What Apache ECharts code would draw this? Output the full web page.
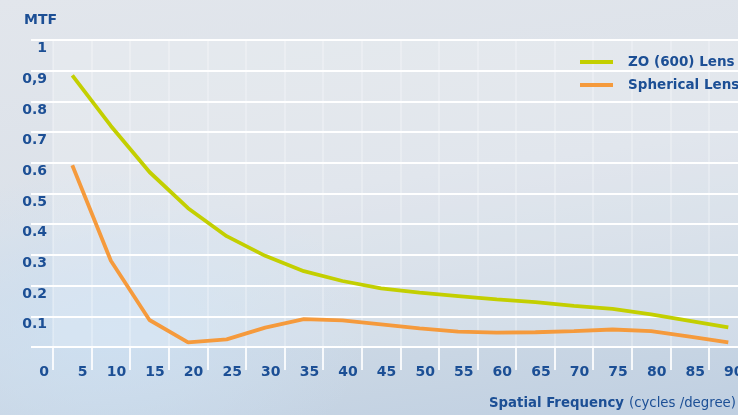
<!DOCTYPE html>
<html>
<head>
<meta charset="utf-8">
<script src="https://cdn.jsdelivr.net/npm/echarts@6/dist/echarts.min.js"></script>
<style>
html,body{margin:0;padding:0;overflow:hidden;width:738px;height:415px;}
#chart{width:760px;height:415px;
background:
 radial-gradient(ellipse 260px 160px at 110px 330px, rgba(205,224,242,0.9), rgba(205,224,242,0) 100%),
 linear-gradient(172deg, #e2e6ec 0%, #dbe1e9 45%, #c9d6e4 80%, #bfcfe1 100%);}
</style>
</head>
<body>
<div id="chart"></div>
<script>
// Data
const freq = [2.5, 7.5, 12.5, 17.5, 22.5, 27.5, 32.5, 37.5, 42.5, 47.5, 52.5, 57.5, 62.5, 67.5, 72.5, 77.5, 82.5, 87.5];
const zoLens = [0.885, 0.72, 0.57, 0.452, 0.361, 0.297, 0.247, 0.215, 0.191, 0.177, 0.166, 0.155, 0.146, 0.134, 0.124, 0.106, 0.085, 0.064];
const sphericalLens = [0.592, 0.281, 0.088, 0.015, 0.025, 0.063, 0.091, 0.087, 0.074, 0.061, 0.05, 0.047, 0.048, 0.052, 0.057, 0.052, 0.034, 0.015];
const seriesNames = ['ZO (600) Lens', 'Spherical Lens'];
const xTickLabels = ['0','5','10','15','20','25','30','35','40','45','50','55','60','65','70','75','80','85','90'];
const yTickLabels = ['', '0.1', '0.2', '0.3', '0.4', '0.5', '0.6', '0.7', '0.8', '0,9', '1'];

const BLUE = '#1c4f95';
const FONT = 'DejaVu Sans';

const chart = echarts.init(document.getElementById('chart'), null, {renderer: 'canvas'});
chart.setOption({
  backgroundColor: 'transparent',
  animation: false,
  title: [
    {text: 'MTF', left: 19, top: 8,
     textStyle: {color: BLUE, fontFamily: FONT, fontWeight: 'bold', fontSize: 14}},
    {text: '{b|Spatial Frequency} {n|(cycles /degree)}', left: 484, top: 390,
     textStyle: {rich: {
       b: {color: BLUE, fontFamily: FONT, fontWeight: 'bold', fontSize: 13.3},
       n: {color: BLUE, fontFamily: FONT, fontWeight: 'normal', fontSize: 13.3}
     }}}
  ],
  legend: {
    orient: 'vertical', left: 575, top: 50, itemGap: 9,
    itemWidth: 33, itemHeight: 4, icon: 'rect',
    textStyle: {color: BLUE, fontFamily: FONT, fontWeight: 'bold', fontSize: 13.5, padding: [0,0,0,10]},
    data: seriesNames
  },
  grid: {left: 53, top: 40, width: 694.6, bottom: 68, show: true,
         backgroundColor: 'rgba(255,255,255,0.18)', borderWidth: 0},
  xAxis: {
    type: 'value', min: 0, max: 90, interval: 5, offset: 7,
    axisLine: {show: false},
    axisTick: {show: true, length: 23, lineStyle: {color: 'rgba(255,255,255,0.85)', width: 2}},
    splitLine: {show: true, lineStyle: {color: 'rgba(255,255,255,0.32)', width: 1.5}},
    axisLabel: {
      color: BLUE, fontFamily: FONT, fontWeight: 'bold', fontSize: 14,
      margin: 11, align: 'right', padding: [0, 4, 0, 0],
      showMinLabel: true, showMaxLabel: true,
      formatter: (v) => xTickLabels[Math.round(v / 5)]
    }
  },
  yAxis: {
    type: 'value', min: 0, max: 1, interval: 0.1, offset: 6,
    axisLine: {show: false},
    axisTick: {show: true, length: 22, lineStyle: {color: '#ffffff', width: 2}},
    splitLine: {show: true, lineStyle: {color: '#ffffff', width: 2}},
    axisLabel: {
      color: BLUE, fontFamily: FONT, fontWeight: 'bold', fontSize: 14,
      margin: 0, verticalAlign: 'top', lineHeight: 17,
      formatter: (v) => yTickLabels[Math.round(v * 10)]
    }
  },
  series: [
    {name: seriesNames[0], type: 'line', symbol: 'none', color: '#c3cf00',
     lineStyle: {width: 3.8, color: '#c3cf00'},
     data: freq.map((f, i) => [f, zoLens[i]])},
    {name: seriesNames[1], type: 'line', symbol: 'none', color: '#f59a3c',
     lineStyle: {width: 3.8, color: '#f59a3c'},
     data: freq.map((f, i) => [f, sphericalLens[i]])}
  ]
});
</script>
</body>
</html>
